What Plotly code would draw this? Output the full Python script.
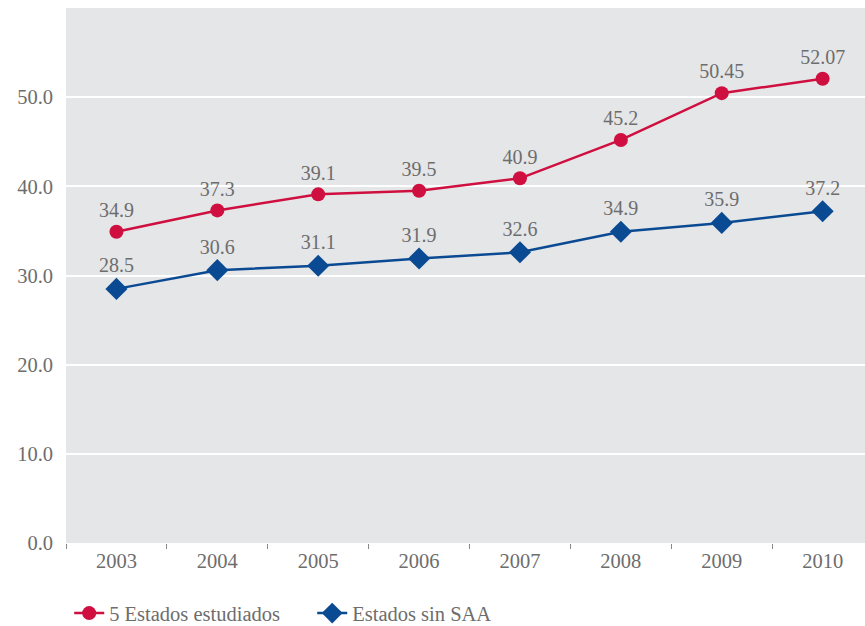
import plotly.graph_objects as go

years = ["2003", "2004", "2005", "2006", "2007", "2008", "2009", "2010"]
estudiados = [34.9, 37.3, 39.1, 39.5, 40.9, 45.2, 50.45, 52.07]
estudiados_lbl = ["34.9", "37.3", "39.1", "39.5", "40.9", "45.2", "50.45", "52.07"]
sin_saa = [28.5, 30.6, 31.1, 31.9, 32.6, 34.9, 35.9, 37.2]
sin_saa_lbl = ["28.5", "30.6", "31.1", "31.9", "32.6", "34.9", "35.9", "37.2"]
y_ticks = [0, 10, 20, 30, 40, 50]
y_tick_text = ["0.0", "10.0", "20.0", "30.0", "40.0", "50.0"]

RED = "#cf0f40"
BLUE = "#0a4a92"
GRAY = "#6d6d6d"
FONT = "Liberation Serif"

fig = go.Figure()
fig.add_trace(go.Scatter(
    x=years, y=estudiados, name="5 Estados estudiados",
    mode="lines+markers+text", text=estudiados_lbl, textposition="top center",
    textfont=dict(family=FONT, size=20, color=GRAY),
    line=dict(color=RED, width=2.5),
    marker=dict(symbol="circle", size=14, color=RED),
))
fig.add_trace(go.Scatter(
    x=years, y=sin_saa, name="Estados sin SAA",
    mode="lines+markers+text", text=sin_saa_lbl, textposition="top center",
    textfont=dict(family=FONT, size=20, color=GRAY),
    line=dict(color=BLUE, width=2.5),
    marker=dict(symbol="diamond", size=17, color=BLUE),
))

fig.update_layout(
    width=865, height=660,
    margin=dict(l=66, r=0, t=8, b=117),
    paper_bgcolor="white",
    plot_bgcolor="#e5e6e8",
    font=dict(family=FONT, size=20.5, color=GRAY),
    showlegend=True,
    legend=dict(orientation="h", x=0.004, xanchor="left", y=-0.094, yanchor="top",
                font=dict(family=FONT, size=20.5, color=GRAY),
                itemwidth=30, entrywidth=198, tracegroupgap=0, traceorder="normal"),
)
fig.update_xaxes(
    type="category", range=[-0.5, 7.42], automargin=False,
    tickson="boundaries", ticks="outside", ticklen=5, tickcolor="#888888",
    ticklabelstandoff=3,
    showgrid=False, zeroline=False, showline=False,
    tickfont=dict(family=FONT, size=20.5, color=GRAY),
)
fig.update_yaxes(
    range=[0, 60], tickvals=y_ticks, ticktext=y_tick_text, automargin=False,
    showgrid=True, gridcolor="white", gridwidth=2, zeroline=False, showline=False,
    ticks="", ticklabelstandoff=12,
    tickfont=dict(family=FONT, size=20.5, color=GRAY),
)

fig.write_html("out.html", config={"displayModeBar": False},
               post_script="document.body.style.margin='0';document.body.style.overflow='hidden';document.documentElement.style.overflow='hidden';")
